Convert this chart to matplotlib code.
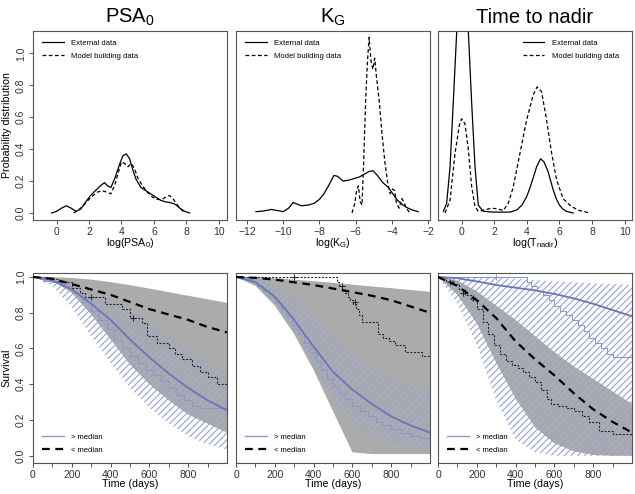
import numpy as np
import matplotlib
matplotlib.use("Agg")
import matplotlib.pyplot as plt
from matplotlib.lines import Line2D

plt.rcParams['font.family'] = ['Liberation Sans', 'DejaVu Sans']
plt.rcParams['mathtext.default'] = 'regular'
plt.rcParams['hatch.linewidth'] = 0.8

# ---- top row: density of covariates ----
psa_ext_x = [-0.3, 0.0, 0.3, 0.6, 0.9, 1.2, 1.5, 1.8, 2.1, 2.4, 2.7, 2.95, 3.15, 3.35, 3.6, 3.9, 4.1, 4.3,
             4.5, 4.7, 4.9, 5.2, 5.5, 5.8, 6.1, 6.4, 6.7, 7.0, 7.3, 7.6, 7.9, 8.2]
psa_ext_y = [0.0, 0.01, 0.03, 0.045, 0.03, 0.01, 0.025, 0.07, 0.11, 0.14, 0.17, 0.19, 0.17, 0.16, 0.22, 0.31,
             0.36, 0.37, 0.34, 0.27, 0.21, 0.16, 0.14, 0.12, 0.1, 0.08, 0.07, 0.065, 0.055, 0.03, 0.01, 0.0]
psa_mod_x = [1.05, 1.3, 1.6, 1.9, 2.2, 2.5, 2.8, 3.1, 3.35, 3.6, 3.85, 4.0, 4.2, 4.4, 4.6, 4.8, 5.0, 5.3,
             5.6, 5.9, 6.2, 6.5, 6.75, 6.95, 7.2, 7.45, 7.7, 7.9]
psa_mod_y = [0.0, 0.015, 0.04, 0.075, 0.105, 0.13, 0.14, 0.13, 0.12, 0.18, 0.27, 0.32, 0.31, 0.29, 0.31,
             0.28, 0.22, 0.17, 0.13, 0.1, 0.085, 0.085, 0.1, 0.11, 0.085, 0.05, 0.02, 0.0]

kg_ext_x = [-11.5, -11.1, -10.65, -10.3, -10.0, -9.7, -9.45, -9.2, -9.0, -8.6, -8.3, -8.0, -7.75, -7.5, -7.2,
            -7.0, -6.7, -6.4, -6.1, -5.8, -5.5, -5.25, -5.05, -4.8, -4.5, -4.2, -3.95, -3.7, -3.45, -3.2,
            -2.9, -2.55]
kg_ext_y = [0.008, 0.012, 0.022, 0.015, 0.008, 0.03, 0.065, 0.055, 0.045, 0.05, 0.06, 0.085, 0.12, 0.17,
            0.235, 0.23, 0.2, 0.205, 0.215, 0.225, 0.245, 0.26, 0.265, 0.235, 0.19, 0.16, 0.12, 0.08, 0.055,
            0.035, 0.02, 0.008]
kg_mod_x = [-6.2, -6.05, -5.95, -5.85, -5.75, -5.65, -5.55, -5.45, -5.35, -5.26, -5.15, -5.05, -4.95, -4.85,
            -4.7, -4.55, -4.4, -4.25, -4.1, -3.95, -3.85, -3.75, -3.6, -3.45, -3.35, -3.2, -3.05]
kg_mod_y = [0.0, 0.06, 0.14, 0.17, 0.07, 0.05, 0.35, 0.7, 0.95, 1.1, 0.95, 0.9, 0.97, 0.85, 0.7, 0.5, 0.33,
            0.2, 0.12, 0.15, 0.14, 0.06, 0.03, 0.09, 0.07, 0.03, 0.005]

tn_ext_x = [-1.12, -0.92, -0.71, -0.51, -0.3, -0.1, 0.05, 0.2, 0.41, 0.61, 0.82, 1.02, 1.3, 1.8, 2.4, 3.0,
            3.4, 3.7, 3.98, 4.2, 4.39, 4.6, 4.84, 5.05, 5.3, 5.6, 5.8, 6.0, 6.2, 6.43, 6.84]
tn_ext_y = [0.01, 0.06, 0.29, 0.7, 1.14, 1.5, 1.6, 1.5, 1.14, 0.7, 0.29, 0.05, 0.012, 0.006, 0.005, 0.006,
            0.02, 0.05, 0.1, 0.16, 0.22, 0.29, 0.34, 0.32, 0.26, 0.15, 0.09, 0.05, 0.025, 0.01, 0.0]
tn_mod_x = [-1.02, -0.71, -0.41, -0.14, 0.0, 0.2, 0.41, 0.61, 0.82, 1.02, 1.43, 1.84, 2.24, 2.55, 2.86,
            3.16, 3.57, 3.98, 4.39, 4.63, 4.9, 5.2, 5.51, 5.82, 6.22, 6.73, 7.24, 7.86]
tn_mod_y = [0.0, 0.08, 0.37, 0.55, 0.59, 0.56, 0.4, 0.17, 0.04, 0.01, 0.02, 0.03, 0.025, 0.015, 0.06, 0.16,
            0.37, 0.58, 0.74, 0.79, 0.76, 0.59, 0.38, 0.21, 0.09, 0.04, 0.015, 0.0]

top_titles = [r'PSA$_0$', r'K$_G$', 'Time to nadir']
top_xlabels = [r'log(PSA$_0$)', r'log(K$_G$)', r'log(T$_{nadir}$)']

# ---- bottom row: survival predictions ----
days = [0, 100, 200, 300, 400, 500, 600, 700, 800, 900, 1000]

psa_gray_hi = [1.0, 0.999, 0.994, 0.985, 0.971, 0.954, 0.935, 0.915, 0.895, 0.875, 0.855]
psa_gray_lo = [1.0, 0.98, 0.91, 0.79, 0.65, 0.51, 0.4, 0.31, 0.23, 0.18, 0.13]
psa_hatch_hi = [1.0, 0.99, 0.96, 0.91, 0.86, 0.81, 0.75, 0.67, 0.6, 0.53, 0.47]
psa_hatch_lo = [1.0, 0.95, 0.83, 0.67, 0.52, 0.38, 0.27, 0.18, 0.11, 0.065, 0.035]
psa_hi_pred = [1.0, 0.98, 0.93, 0.85, 0.76, 0.65, 0.55, 0.46, 0.38, 0.31, 0.255]
psa_lo_pred = [1.0, 0.99, 0.96, 0.93, 0.9, 0.86, 0.82, 0.79, 0.76, 0.72, 0.69]

kg_gray_hi = [1.0, 0.998, 0.993, 0.985, 0.976, 0.967, 0.957, 0.947, 0.937, 0.927, 0.917]
kg_gray_lo = [1.0, 0.95, 0.84, 0.68, 0.48, 0.25, 0.02, 0.01, 0.01, 0.01, 0.01]
kg_hatch_hi = [1.0, 0.995, 0.96, 0.88, 0.78, 0.68, 0.58, 0.5, 0.44, 0.4, 0.37]
kg_hatch_lo = [1.0, 0.96, 0.86, 0.7, 0.5, 0.31, 0.18, 0.11, 0.07, 0.05, 0.04]
kg_hi_pred = [1.0, 0.97, 0.89, 0.76, 0.61, 0.47, 0.37, 0.29, 0.22, 0.17, 0.13]
kg_lo_pred = [1.0, 0.995, 0.985, 0.97, 0.955, 0.935, 0.915, 0.895, 0.87, 0.835, 0.8]

tn_gray_hi = [1.0, 0.98, 0.92, 0.84, 0.76, 0.67, 0.58, 0.5, 0.43, 0.36, 0.29]
tn_gray_lo = [1.0, 0.9, 0.74, 0.52, 0.32, 0.16, 0.07, 0.025, 0.005, 0.0, 0.0]
tn_hatch_hi = [1.0, 1.0, 0.998, 0.995, 0.99, 0.983, 0.975, 0.97, 0.965, 0.96, 0.955]
tn_hatch_lo = [1.0, 0.85, 0.62, 0.31, 0.09, 0.02, 0.0, 0.0, 0.0, 0.0, 0.0]
tn_hi_pred = [1.0, 0.993, 0.975, 0.955, 0.94, 0.925, 0.905, 0.88, 0.85, 0.815, 0.78]
tn_lo_pred = [1.0, 0.95, 0.87, 0.77, 0.64, 0.54, 0.45, 0.35, 0.26, 0.19, 0.13]

# Kaplan-Meier (observed)
psa_km_hi_t = [0, 50, 100, 150, 200, 250, 300, 340, 380, 420, 460, 500, 540, 580, 620, 660, 700, 740, 780,
               820, 860, 1000]
psa_km_hi_s = [1.0, 0.98, 0.97, 0.95, 0.91, 0.86, 0.81, 0.76, 0.71, 0.65, 0.6, 0.56, 0.52, 0.48, 0.45, 0.42,
               0.38, 0.34, 0.31, 0.28, 0.27, 0.27]
psa_km_lo_t = [0, 60, 130, 200, 240, 270, 370, 460, 500, 560, 590, 640, 700, 730, 770, 820, 860, 900, 950, 1000]
psa_km_lo_s = [1.0, 0.99, 0.97, 0.94, 0.91, 0.89, 0.85, 0.82, 0.77, 0.74, 0.67, 0.63, 0.6, 0.57, 0.54, 0.5,
               0.47, 0.44, 0.4, 0.38]
psa_cens_hi = ([55], [0.99])
psa_cens_lo = ([300, 518], [0.89, 0.77])

kg_km_hi_t = [0, 40, 80, 110, 140, 170, 200, 230, 260, 290, 320, 350, 380, 410, 440, 470, 500, 530, 560, 600,
              640, 680, 720, 760, 800, 850, 900, 950, 1000]
kg_km_hi_s = [1.0, 0.99, 0.97, 0.95, 0.92, 0.89, 0.86, 0.82, 0.78, 0.73, 0.68, 0.63, 0.58, 0.53, 0.48, 0.43,
              0.39, 0.35, 0.32, 0.28, 0.25, 0.22, 0.19, 0.17, 0.15, 0.13, 0.11, 0.1, 0.1]
kg_km_lo_t = [0, 520, 530, 545, 560, 575, 590, 605, 620, 635, 650, 730, 760, 790, 820, 870, 960, 1000]
kg_km_lo_s = [1.0, 0.97, 0.95, 0.93, 0.91, 0.89, 0.87, 0.85, 0.82, 0.79, 0.75, 0.68, 0.66, 0.64, 0.62, 0.58,
              0.56, 0.56]
kg_cens_hi = ([], [])
kg_cens_lo = ([300, 548, 612], [1.0, 0.95, 0.86])

tn_km_hi_t = [0, 460, 480, 510, 540, 570, 600, 630, 660, 690, 720, 750, 780, 810, 840, 870, 900, 1000]
tn_km_hi_s = [1.0, 0.97, 0.95, 0.92, 0.9, 0.87, 0.84, 0.81, 0.79, 0.76, 0.73, 0.7, 0.66, 0.63, 0.6, 0.57,
              0.55, 0.55]
tn_km_lo_t = [0, 40, 80, 110, 140, 170, 200, 230, 260, 290, 320, 350, 380, 410, 440, 470, 500, 530, 560, 580,
              620, 660, 700, 740, 780, 830, 900, 1000]
tn_km_lo_s = [1.0, 0.98, 0.96, 0.93, 0.9, 0.87, 0.82, 0.75, 0.68, 0.62, 0.57, 0.53, 0.51, 0.49, 0.47, 0.44,
              0.41, 0.37, 0.32, 0.29, 0.28, 0.27, 0.25, 0.22, 0.19, 0.14, 0.12, 0.12]
tn_cens_hi = ([300], [1.0])
tn_cens_lo = ([60, 130, 180], [0.97, 0.91, 0.88])

BLUE = '#6b76b6'
BLUE_KM = '#8d96cc'
HATCH = '#98a1d4'
GRAY = '#ababab'
FRAME = '#555555'

fig = plt.figure(figsize=(6.35, 4.94), dpi=100)
W, H = 635.0, 494.0
lefts = [33, 236, 438]
pw = 194


def style(ax):
    for s in ax.spines.values():
        s.set_color(FRAME)
        s.set_linewidth(0.8)
    ax.tick_params(direction='out', length=3, width=0.6, colors='#333333', labelsize=7.5, pad=2)


# top row
top_data = [(psa_ext_x, psa_ext_y, psa_mod_x, psa_mod_y),
            (kg_ext_x, kg_ext_y, kg_mod_x, kg_mod_y),
            (tn_ext_x, tn_ext_y, tn_mod_x, tn_mod_y)]
top_xlim = [(-1.45, 10.5), (-12.6, -1.9), (-1.45, 10.45)]
top_xticks = [range(0, 11, 2), range(-12, -1, 2), range(0, 11, 2)]
leg_anchor = [(0.02, 0.985), (0.02, 0.985), (0.41, 0.985)]

for i in range(3):
    ax = fig.add_axes([lefts[i] / W, 1 - 220 / H, pw / W, 189 / H])
    ex, ey, mx, my = top_data[i]
    ax.plot(ex, ey, color='black', lw=0.9, label='External data')
    ax.plot(mx, my, color='black', lw=0.9, dashes=(3, 2), label='Model building data')
    ax.set_xlim(*top_xlim[i])
    ax.set_ylim(-0.044, 1.14)
    ax.set_xticks(list(top_xticks[i]))
    style(ax)
    if i == 0:
        ax.set_yticks([0, 0.2, 0.4, 0.6, 0.8, 1.0])
        ax.set_yticklabels(['0.0', '0.2', '0.4', '0.6', '0.8', '1.0'], rotation=90, va='center')
        ax.set_ylabel('Probability distribution', fontsize=7.7, labelpad=3)
    else:
        ax.set_yticks([])
    ax.set_xlabel(top_xlabels[i], fontsize=7.7, labelpad=-1)
    ax.set_title(top_titles[i], fontsize=14.5, pad=6)
    ax.legend(loc='upper left', bbox_to_anchor=leg_anchor[i], frameon=False, fontsize=5.5,
              handlelength=2.8, handletextpad=1.0, labelspacing=0.75, borderaxespad=0.3)

# bottom row
bot_data = [
    (psa_gray_lo, psa_gray_hi, psa_hatch_lo, psa_hatch_hi, psa_hi_pred, psa_lo_pred,
     psa_km_hi_t, psa_km_hi_s, psa_km_lo_t, psa_km_lo_s, psa_cens_hi, psa_cens_lo),
    (kg_gray_lo, kg_gray_hi, kg_hatch_lo, kg_hatch_hi, kg_hi_pred, kg_lo_pred,
     kg_km_hi_t, kg_km_hi_s, kg_km_lo_t, kg_km_lo_s, kg_cens_hi, kg_cens_lo),
    (tn_gray_lo, tn_gray_hi, tn_hatch_lo, tn_hatch_hi, tn_hi_pred, tn_lo_pred,
     tn_km_hi_t, tn_km_hi_s, tn_km_lo_t, tn_km_lo_s, tn_cens_hi, tn_cens_lo),
]

for i in range(3):
    ax = fig.add_axes([lefts[i] / W, 1 - 463 / H, pw / W, 190 / H])
    (glo, ghi, hlo, hhi, bpred, kpred, bt, bs, kt, ks, bc, kc) = bot_data[i]
    ax.fill_between(days, glo, ghi, facecolor=GRAY, edgecolor='none', lw=0, zorder=1)
    ax.fill_between(days, hlo, hhi, facecolor='none', edgecolor=HATCH, hatch='/////', lw=0, zorder=2)
    ax.step(bt, bs, where='post', color=BLUE_KM, lw=0.7, zorder=3)
    ax.step(kt, ks, where='post', color='#222222', lw=0.8, dashes=(1.8, 1.4), zorder=3)
    ax.plot(bc[0], bc[1], '+', color=BLUE_KM, ms=5, mew=0.7, zorder=4)
    ax.plot(kc[0], kc[1], '+', color='#222222', ms=5, mew=0.7, zorder=4)
    ax.plot(days, bpred, color=BLUE, lw=1.3, zorder=5)
    ax.plot(days, kpred, color='black', lw=1.6, dashes=(3.5, 2.5), zorder=5)
    ax.set_xlim(0, 1000)
    ax.set_ylim(-0.04, 1.022)
    ax.set_xticks(range(0, 1000, 100))
    ax.set_xticklabels([str(v) if v % 200 == 0 else '' for v in range(0, 1000, 100)])
    style(ax)
    if i == 0:
        ax.set_yticks([0, 0.2, 0.4, 0.6, 0.8, 1.0])
        ax.set_yticklabels(['0.0', '0.2', '0.4', '0.6', '0.8', '1.0'], rotation=90, va='center')
        ax.set_ylabel('Survival', fontsize=7.7, labelpad=3)
    else:
        ax.set_yticks([])
    ax.set_xlabel('Time (days)', fontsize=7.7, labelpad=-1)
    handles = [Line2D([], [], color=BLUE_KM, lw=1.0),
               Line2D([], [], color='black', lw=1.6, dashes=(3.5, 2.5))]
    ax.legend(handles, ['> median', '< median'], loc='lower left', bbox_to_anchor=(0.02, 0.02),
              frameon=False, fontsize=5.5, handlelength=2.8, handletextpad=1.0, labelspacing=0.75,
              borderaxespad=0.3)

fig.savefig('out.png', dpi=100)
